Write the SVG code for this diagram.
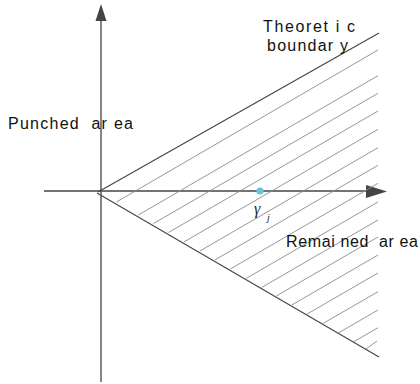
<svg xmlns="http://www.w3.org/2000/svg" width="420" height="384" viewBox="0 0 420 384">
<style>
.axis{stroke:#444;stroke-width:1.3;fill:none}
.bound{stroke:#444;stroke-width:1.1;fill:none}
.hatch{stroke:#8a8a8a;stroke-width:0.9;fill:none}
.lbl{font-family:"Liberation Sans",Arial,sans-serif;font-size:16px;fill:#111}
.head{fill:#444}
</style>
<rect width="420" height="384" fill="#fff"/>
<g id="axes">
<line class="axis" x1="101" y1="20" x2="101" y2="382"/>
<polygon class="head" points="101,4 95.5,21 106.5,21"/>
<line class="axis" x1="44" y1="191" x2="368" y2="191"/>
<polygon class="head" points="387,191.5 366,185 366,198"/>
</g>
<g id="boundaries">
<line class="bound" x1="98" y1="192" x2="379" y2="33"/>
<line class="bound" x1="97" y1="193" x2="379" y2="357"/>
</g>
<g id="hatching">
<line class="hatch" x1="378" y1="50" x2="116.4" y2="202"/>
<line class="hatch" x1="378" y1="75.7" x2="138.4" y2="215"/>
<line class="hatch" x1="378" y1="93.3" x2="153.4" y2="223.6"/>
<line class="hatch" x1="378" y1="111" x2="168.5" y2="232.5"/>
<line class="hatch" x1="378" y1="129.3" x2="184.2" y2="241.8"/>
<line class="hatch" x1="378" y1="147.7" x2="199.9" y2="251"/>
<line class="hatch" x1="378" y1="165.3" x2="214.9" y2="259.9"/>
<line class="hatch" x1="378" y1="183.3" x2="230.3" y2="269"/>
<line class="hatch" x1="378" y1="202" x2="246.2" y2="278.4"/>
<line class="hatch" x1="378" y1="220" x2="261.6" y2="287.5"/>
<line class="hatch" x1="378" y1="237" x2="276.1" y2="296.1"/>
<line class="hatch" x1="378" y1="255" x2="291.5" y2="305.2"/>
<line class="hatch" x1="378" y1="273" x2="306.9" y2="314.2"/>
<line class="hatch" x1="378" y1="291.7" x2="322.8" y2="323.6"/>
<line class="hatch" x1="378" y1="310" x2="338.5" y2="332.9"/>
<line class="hatch" x1="378" y1="327.7" x2="353.6" y2="341.8"/>
<line class="hatch" x1="377" y1="341" x2="366" y2="349"/>
</g>
<g id="point">
<circle cx="260" cy="191" r="3.6" fill="#66c4dc"/>
</g>
<g id="labels">
<text class="lbl" x="8" y="129" textLength="125" lengthAdjust="spacing" xml:space="preserve">Punched  ar ea</text>
<text class="lbl" x="263" y="32" textLength="92" lengthAdjust="spacing" xml:space="preserve">Theoret i c</text>
<text class="lbl" x="267" y="51" textLength="81" lengthAdjust="spacing" xml:space="preserve">boundar y</text>
<text class="lbl" x="286" y="247" textLength="132" lengthAdjust="spacing" xml:space="preserve">Remai ned  ar ea</text>
<text x="254" y="214" font-family="Liberation Serif,serif" font-style="italic" font-size="16" fill="#222">γ</text>
<text x="267" y="221" font-family="Liberation Serif,serif" font-style="italic" font-size="10" fill="#222">j</text>
</g>
</svg>
